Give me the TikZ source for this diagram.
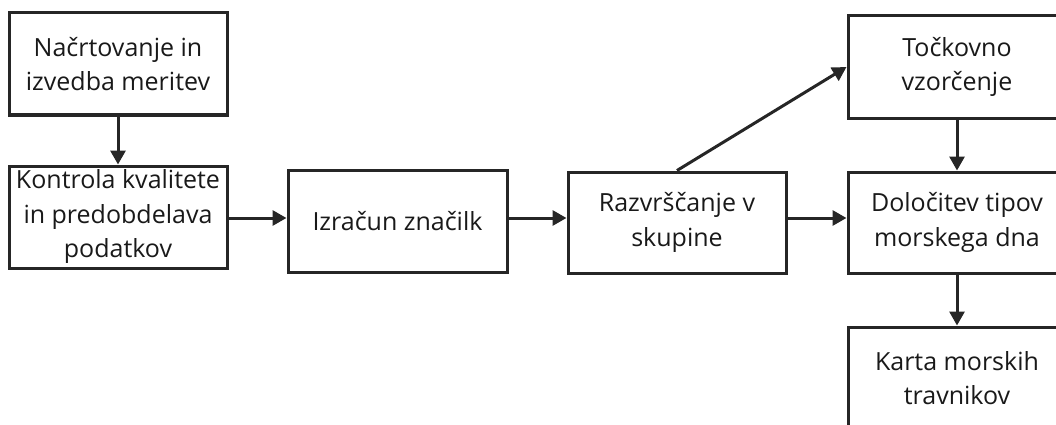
\documentclass[tikz,border=0pt]{standalone}
\usepackage{fontspec}
\setmainfont{Open Sans}
\usetikzlibrary{arrows.meta}
\tikzset{
  boxnode/.style={draw=black!85, line width=3pt, rectangle, minimum width=218pt, minimum height=102pt, inner sep=0pt, align=center, font=\fontsize{25}{34.5}\selectfont, text=black!90},
  conn/.style={draw=black!85, line width=3pt, -{Triangle[length=14pt,width=15pt]}}
}
\begin{document}
\begin{tikzpicture}[x=1pt,y=-1pt]
\useasboundingbox (0,0) rectangle (1056,425);
\clip (0,0) rectangle (1056,425);
\node[boxnode] (A) at (118,64) {Načrtovanje in\\izvedba meritev};
\node[boxnode] (B) at (118,217) {Kontrola kvalitete\\in predobdelava\\podatkov};
\node[boxnode, minimum width=219pt] (C) at (397.5,221.5) {Izračun značilk};
\node[boxnode, minimum height=101pt] (D) at (677,222.5) {Razvrščanje v\\skupine};
\node[boxnode] (E) at (957,67) {Točkovno\\vzorčenje};
\node[boxnode, minimum height=101pt] (F) at (957,222.5) {Določitev tipov\\morskega dna};
\node[boxnode] (G) at (957,378) {Karta morskih\\travnikov};
\draw[conn] (A) -- (B);
\draw[conn] (B.east |- 0,218) -- (C.west |- 0,218);
\draw[conn] (C.east |- 0,218) -- (D.west |- 0,218);
\draw[conn] (D.east |- 0,218) -- (F.west |- 0,218);
\draw[conn] (D.north) -- (E.west);
\draw[conn] (E) -- (F);
\draw[conn] (F) -- (G);
\end{tikzpicture}
\end{document}
